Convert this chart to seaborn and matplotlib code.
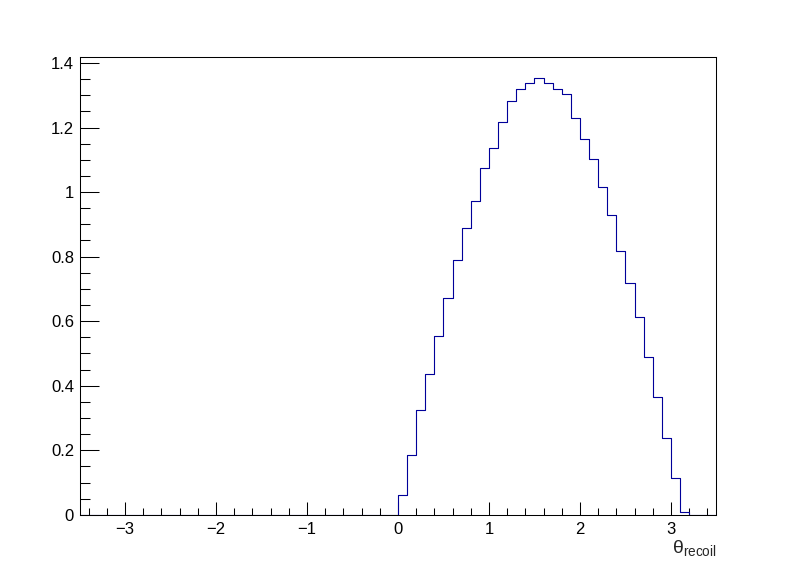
import numpy as np
import pandas as pd
import matplotlib
matplotlib.use("Agg")
import matplotlib.pyplot as plt
import matplotlib.ticker as mticker
import seaborn as sns

# bin contents of theta_recoil, bins of width 0.1 starting at 0
bin_width = 0.1
theta_low = np.round(np.arange(32) * bin_width, 2)
weights = [0.061, 0.185, 0.325, 0.437, 0.555, 0.673, 0.791, 0.890, 0.971, 1.076,
           1.138, 1.216, 1.281, 1.319, 1.337, 1.353, 1.337, 1.319, 1.303, 1.229,
           1.163, 1.101, 1.017, 0.930, 0.819, 0.719, 0.614, 0.490, 0.365, 0.238,
           0.114, 0.008]
x_range = (-3.5, 3.5)

df = pd.DataFrame({'theta': theta_low + bin_width / 2, 'w': weights})

sns.set_style("ticks")
plt.rcParams['font.family'] = ['Liberation Sans', 'DejaVu Sans']
plt.rcParams['mathtext.fontset'] = 'custom'
plt.rcParams['mathtext.rm'] = 'Liberation Sans'
plt.rcParams['mathtext.it'] = 'Liberation Sans:italic'

fig = plt.figure(figsize=(7.96, 5.72), dpi=100)
ax = fig.add_axes([0.1, 0.1, 0.8, 0.8])

sns.histplot(data=df, x='theta', weights='w', binwidth=bin_width, binrange=x_range,
             element="step", fill=False, color="#000099", linewidth=0.8, ax=ax)

ax.set_xlim(*x_range)
ax.set_ylim(0, 1.418)
ax.set_ylabel("")
ax.set_xlabel(r"$\mathrm{\theta}_{\mathrm{recoil}}$", loc="right", fontsize=14, labelpad=1)

ax.xaxis.set_major_locator(mticker.MultipleLocator(1))
ax.xaxis.set_minor_locator(mticker.MultipleLocator(0.2))
ax.yaxis.set_major_locator(mticker.MultipleLocator(0.2))
ax.yaxis.set_minor_locator(mticker.MultipleLocator(0.05))
fmt = mticker.FuncFormatter(lambda v, p: ("%g" % round(v, 6)).replace("-", "\u2212"))
ax.xaxis.set_major_formatter(fmt)
ax.yaxis.set_major_formatter(fmt)

# tick lengths and pads are in points (1 px = 0.72 pt here)
ax.tick_params(which="both", direction="in", top=False, right=False,
               labelsize=12, width=0.75, color="black", labelcolor="black")
ax.tick_params(axis="x", which="major", length=9.4, pad=5)
ax.tick_params(axis="x", which="minor", length=5)
ax.tick_params(axis="y", which="major", length=13.7, pad=4)
ax.tick_params(axis="y", which="minor", length=7.2)
for s in ax.spines.values():
    s.set_visible(True)
    s.set_linewidth(0.75)
    s.set_color("black")

fig.savefig("out.png", dpi=100)
